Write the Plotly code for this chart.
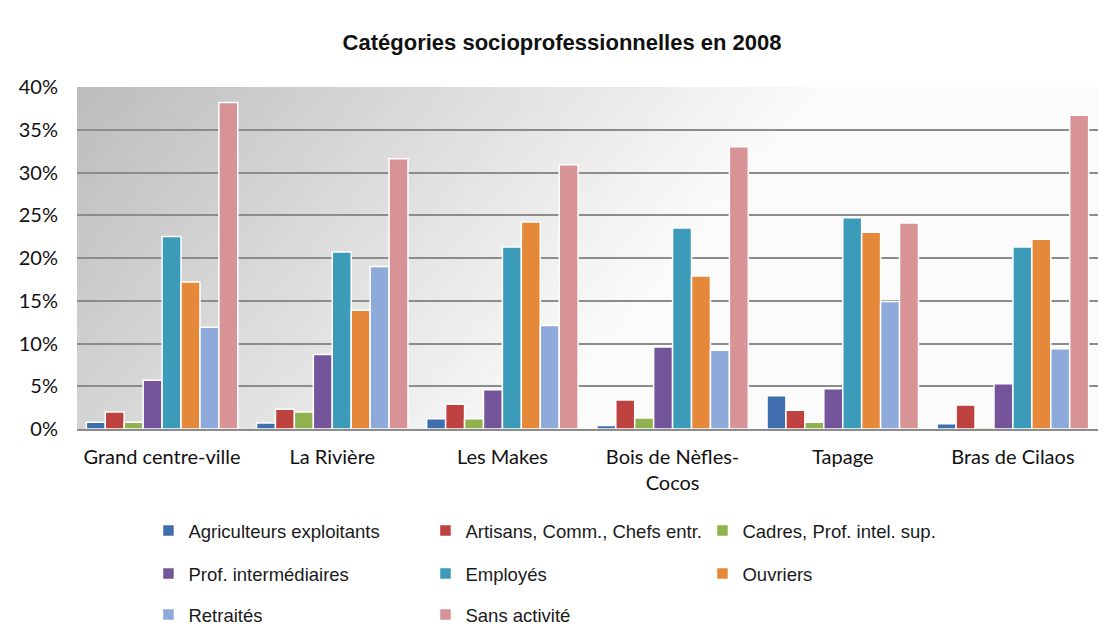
import base64
import plotly.graph_objects as go

# Quartiers (x categories)
zones = ["Grand centre-ville", "La Rivière", "Les Makes",
         "Bois de Nèfles-<br>Cocos", "Tapage", "Bras de Cilaos"]

# Part de chaque catégorie socioprofessionnelle (%)
agriculteurs = [0.8, 0.7, 1.2, 0.4, 3.9, 0.6]
artisans = [2.0, 2.3, 2.9, 3.4, 2.2, 2.8]
cadres = [0.8, 2.0, 1.2, 1.3, 0.8, 0.2]
prof_inter = [5.7, 8.7, 4.6, 9.6, 4.7, 5.3]
employes = [22.5, 20.7, 21.3, 23.5, 24.7, 21.3]
ouvriers = [17.2, 13.9, 24.2, 17.9, 23.0, 22.2]
retraites = [11.9, 19.0, 12.1, 9.2, 14.9, 9.4]
sans_activite = [38.2, 31.6, 30.9, 33.0, 24.1, 36.7]

series = [
    ("Agriculteurs exploitants", agriculteurs, "#3F6FAF", "legend"),
    ("Artisans, Comm., Chefs entr.", artisans, "#BE423F", "legend"),
    ("Cadres, Prof. intel. sup.", cadres, "#8FB24F", "legend"),
    ("Prof. intermédiaires", prof_inter, "#74559C", "legend2"),
    ("Employés", employes, "#3B9BB8", "legend2"),
    ("Ouvriers", ouvriers, "#E6883A", "legend2"),
    ("Retraités", retraites, "#8EAADB", "legend3"),
    ("Sans activité", sans_activite, "#D79395", "legend3"),
]

fig = go.Figure()
for name, vals, color, leg in series:
    fig.add_trace(go.Bar(
        x=zones, y=vals, name=name, legend=leg,
        marker=dict(color=color, line=dict(color="white", width=1.5)),
    ))

# Diagonal grey gradient behind the plot area
svg = (
    '<svg xmlns="http://www.w3.org/2000/svg" width="1021" height="343" '
    'viewBox="0 0 1021 343" preserveAspectRatio="none"><defs>'
    '<linearGradient id="g" gradientUnits="userSpaceOnUse" x1="0" y1="0" x2="442" y2="367">'
    '<stop offset="0" stop-color="#bcbcbc"/><stop offset="1" stop-color="#fbfbfb"/>'
    '</linearGradient></defs><rect width="1021" height="343" fill="url(#g)"/></svg>'
)
bg_src = "data:image/svg+xml;base64," + base64.b64encode(svg.encode()).decode()

legend_common = dict(
    orientation="h", xanchor="left", yanchor="middle",
    entrywidth=232, entrywidthmode="pixels",
    font=dict(family="Liberation Sans, Arial", size=18.5, color="#1a1a1a"),
    bgcolor="rgba(0,0,0,0)", traceorder="normal",
)

fig.update_layout(
    width=1113, height=644,
    margin=dict(l=77, r=15, t=87, b=214),
    paper_bgcolor="white",
    plot_bgcolor="rgba(0,0,0,0)",
    barmode="group", bargap=0.11, bargroupgap=0,
    title=dict(
        text="<b>Catégories socioprofessionnelles en 2008</b>",
        font=dict(family="Liberation Sans, Arial", size=22, color="#111111"),
        x=0.505, xref="container", xanchor="center",
        y=1 - 42 / 644, yref="container", yanchor="middle",
    ),
    images=[dict(
        source=bg_src, xref="paper", yref="paper", x=0, y=1,
        sizex=1, sizey=1, sizing="stretch", layer="below",
        xanchor="left", yanchor="top",
    )],
    xaxis=dict(
        showgrid=False, showline=True, linecolor="#8c8c8c", linewidth=1.5,
        ticks="", ticklabelstandoff=9,
        tickfont=dict(family="Lato, Carlito", size=20, color="#111111"),
    ),
    yaxis=dict(
        range=[0, 40], dtick=5, ticksuffix="%",
        showgrid=True, gridcolor="#8c8c8c", gridwidth=1.5,
        zeroline=False, ticks="", ticklabelstandoff=18,
        tickfont=dict(family="Lato, Carlito", size=20, color="#111111"),
    ),
    legend=dict(x=0.070, y=(430 - 531) / 343, **legend_common),
    legend2=dict(x=0.070, y=(430 - 574) / 343, **legend_common),
    legend3=dict(x=0.070, y=(430 - 615) / 343, **legend_common),
    showlegend=True,
)

fig.write_html("out.html")
